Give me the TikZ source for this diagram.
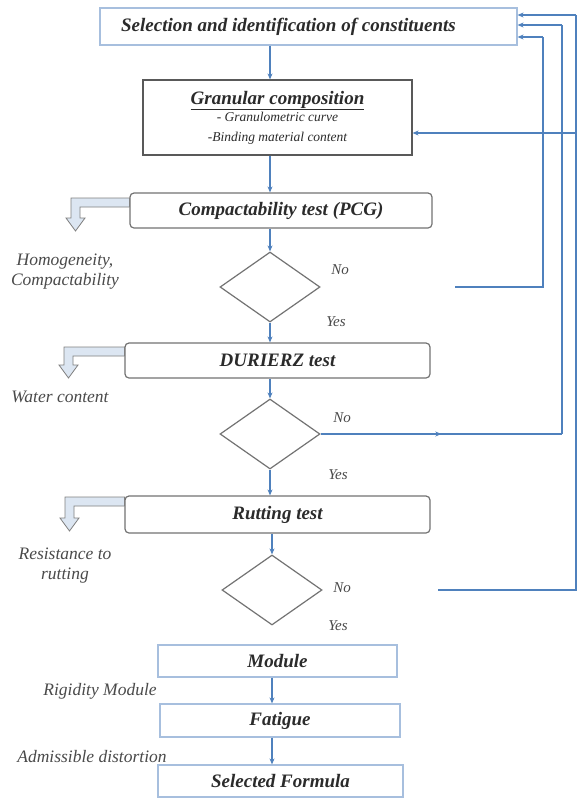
\documentclass[tikz,border=0pt]{standalone}
\usepackage{fontspec}
\setmainfont{Liberation Serif}
\usetikzlibrary{shapes.geometric,arrows.meta,decorations.markings}
\definecolor{linec}{HTML}{4F81BD}
\definecolor{lboxc}{HTML}{A7BFDE}
\definecolor{txtc}{HTML}{2B2B2B}
\definecolor{sidec}{HTML}{4A4A4A}
\definecolor{hollowc}{HTML}{DCE6F2}
\begin{document}
\begin{tikzpicture}[x=1pt,y=-1pt,
  flow/.style={draw=linec, line width=1.3pt},
  arr/.style={flow, -{Stealth[length=6pt,width=5pt]}},
  midarrow/.style={postaction={decorate}, decoration={markings, mark=at position 0.5 with {\arrow{Stealth[length=6pt,width=5pt]}}}},
  boxtxt/.style={font=\fontsize{19}{21}\selectfont\bfseries\itshape, text=txtc, inner sep=0pt, align=center},
  lbox/.style={boxtxt, draw=lboxc, line width=1.2pt},
  gbox/.style={boxtxt, draw=black!65, line width=1.2pt},
  rbox/.style={boxtxt, draw=black!55, line width=1.2pt, rounded corners=4pt},
  dia/.style={draw=black!55, line width=1.2pt, diamond, minimum width=100pt, minimum height=70pt, inner sep=0pt},
  side/.style={font=\fontsize{17.5}{20}\selectfont\itshape, text=sidec, align=center, inner sep=0pt},
  yn/.style={font=\fontsize{15}{17}\selectfont\itshape, text=sidec, inner sep=0pt},
  hollow/.style={draw=black!50, fill=hollowc, line width=0.8pt, line join=miter}
]
\useasboundingbox (0,0) rectangle (578,804);
\fill[white] (0,0) rectangle (578,804);

% boxes
\node[lbox, minimum width=417pt, minimum height=37pt] (b1) at (308.5,26.5) {Selection and identification of constituents\hspace*{40pt}};
\node[gbox, minimum width=269pt, minimum height=75pt] (b2) at (277.5,117.5)
  {\underline{Granular composition}\\[-4pt]
   {\fontsize{13.5}{15}\selectfont\mdseries - Granulometric curve}\\[-1pt]
   {\fontsize{13.5}{15}\selectfont\mdseries -Binding material content}};
\node[rbox, minimum width=302pt, minimum height=35pt] (b3) at (281,210.5) {Compactability test (PCG)};
\node[dia] (d1) at (270,287) {};
\node[rbox, minimum width=305pt, minimum height=35pt] (b4) at (277.5,360.5) {DURIERZ test};
\node[dia] (d2) at (270,434) {};
\node[rbox, minimum width=305pt, minimum height=37pt] (b5) at (277.5,514.5) {Rutting test};
\node[dia] (d3) at (272,590) {};
\node[lbox, minimum width=239pt, minimum height=32pt] (b6) at (277.5,661) {Module};
\node[lbox, minimum width=240pt, minimum height=33pt] (b7) at (280,720.5) {Fatigue};
\node[lbox, minimum width=245pt, minimum height=32pt] (b8) at (280.5,781) {Selected Formula};

% side labels
\node[side] (s1) at (65,272) {Homogeneity,\\Compactability};
\node[side] (s2) at (60,397) {Water content};
\node[side] (s3) at (65,566) {Resistance to\\rutting};
\node[side] (s4) at (100,691) {Rigidity Module};
\node[side] (s5) at (92,757) {Admissible distortion};

% yes/no
\node[yn] (no1) at (340,270) {No};
\node[yn] (ye1) at (336,322) {Yes};
\node[yn] (no2) at (342,418) {No};
\node[yn] (ye2) at (338,475) {Yes};
\node[yn] (no3) at (342,588) {No};
\node[yn] (ye3) at (338,626) {Yes};

% main flow
\draw[arr] (b1.south -| d1.center) -- (b2.north -| d1.center);
\draw[arr] (b2.south -| d1.center) -- (b3.north -| d1.center);
\draw[arr] (b3.south -| d1.center) -- (d1.north);
\draw[arr] (d1.south) -- (b4.north -| d1.center);
\draw[arr] (b4.south -| d2.center) -- (d2.north);
\draw[arr] (d2.south) -- (b5.north -| d2.center);
\draw[arr] (b5.south -| d3.center) -- (d3.north);
\draw[arr] (b6.south -| d3.center) -- (b7.north -| d3.center);
\draw[arr] (b7.south -| d3.center) -- (b8.north -| d3.center);

% feedback loops
\coordinate (n1) at (455,287);
\coordinate (k1) at (543,287);
\coordinate (k1t) at (543,37);
\coordinate (k2) at (562,434);
\coordinate (k2t) at (562,25);
\coordinate (n3) at (438,590);
\coordinate (k3) at (576,590);
\coordinate (k3t) at (576,15);
\coordinate (k3m) at (576,133);
\draw[flow] (n1) -- (k1) -- (k1t);
\draw[arr] (k1t) -- (k1t -| b1.east);
\draw[flow, midarrow] (d2.east) -- (k2);
\draw[flow] (k2) -- (k2t);
\draw[arr] (k2t) -- (k2t -| b1.east);
\draw[flow] (n3) -- (k3) -- (k3t);
\draw[arr] (k3t) -- (k3t -| b1.east);
\draw[arr] (k3m) -- (k3m -| b2.east);

% hollow bent arrows
\draw[hollow] (b3.west |- 0,198) -- (71,198) -- (71,218) -- (66,218) -- (75.5,231) -- (85,218) -- (80,218) -- (80,207) -- (b3.west |- 0,207) -- cycle;
\draw[hollow] (b4.west |- 0,347) -- (64,347) -- (64,365) -- (59,365) -- (68.5,378) -- (78,365) -- (73,365) -- (73,356) -- (b4.west |- 0,356) -- cycle;
\draw[hollow] (b5.west |- 0,497) -- (65,497) -- (65,518) -- (60,518) -- (69.5,531) -- (79,518) -- (74,518) -- (74,506) -- (b5.west |- 0,506) -- cycle;
\end{tikzpicture}
\end{document}
